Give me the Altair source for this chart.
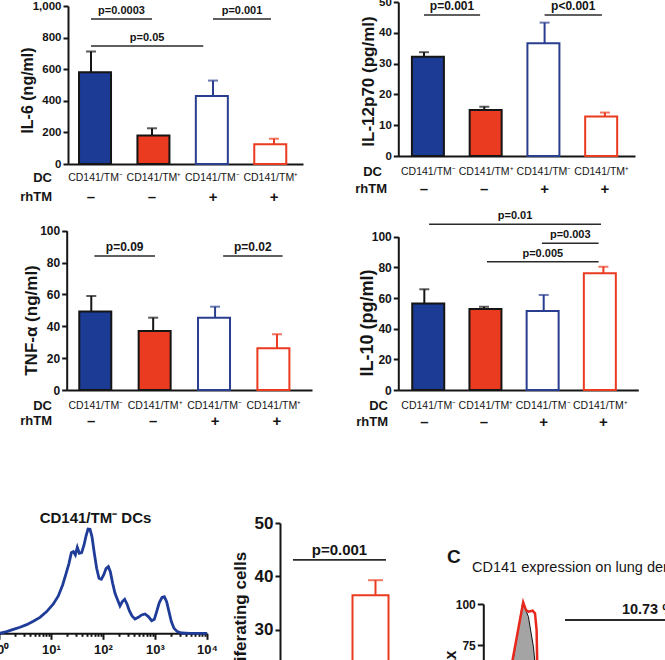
import math
import altair as alt
import pandas as pd

FONT = "Liberation Sans"
INK = "#151515"
W, H = 665, 660

# ------------------------------------------------------------------ data
GROUPS = ["CD141/TM⁻", "CD141/TM⁺", "CD141/TM⁻", "CD141/TM⁺"]
RHTM = ["–", "–", "+", "+"]
FILLS = ["#1b3b94", "#ea3a1f", "#ffffff", "#ffffff"]
EDGES = ["#151515", "#151515", "#2a3e90", "#ea3a1f"]

IL6_MEAN = [580, 180, 430, 125]
IL6_TOP = [712, 226, 528, 160]
IL6_SIG_TEXT = ["p=0.0003", "p=0.001", "p=0.05"]
IL6_SIG_FROM = [0.0, 2.0, 0.0]
IL6_SIG_TO = [1.0, 2.95, 1.84]
IL6_SIG_AT = [918, 918, 747]

IL12_MEAN = [32.2, 14.9, 36.6, 12.8]
IL12_TOP = [33.7, 16.0, 43.3, 14.1]
IL12_SIG_TEXT = ["p=0.001", "p<0.001"]
IL12_SIG_FROM = [0.0, 2.0]
IL12_SIG_TO = [0.93, 2.95]
IL12_SIG_AT = [45.8, 45.8]

TNF_MEAN = [49.2, 37.0, 45.4, 26.2]
TNF_TOP = [59.0, 45.4, 52.3, 35.0]
TNF_SIG_TEXT = ["p=0.09", "p=0.02"]
TNF_SIG_FROM = [0.05, 2.13]
TNF_SIG_TO = [1.03, 3.09]
TNF_SIG_AT = [84.1, 84.1]

IL10_MEAN = [56.5, 52.8, 51.5, 76.1]
IL10_TOP = [65.7, 54.3, 62.0, 80.4]
IL10_SIG_TEXT = ["p=0.01", "p=0.003", "p=0.005"]
IL10_SIG_FROM = [0.08, 1.97, 1.05]
IL10_SIG_TO = [2.96, 2.92, 2.92]
IL10_SIG_AT = [108.1, 95.7, 83.7]

# histogram of CD141/TM- DCs (log10 intensity, % of max)
HIST_LOG = [0.019, 0.147, 0.276, 0.404, 0.532, 0.660, 0.788, 0.917,
            1.045, 1.141, 1.224, 1.288, 1.346, 1.391, 1.429, 1.468, 1.506, 1.545,
            1.590, 1.635, 1.673, 1.712, 1.750, 1.788, 1.833, 1.878, 1.923, 1.968,
            2.013, 2.058, 2.103, 2.141, 2.186, 2.231, 2.276, 2.327, 2.372, 2.417,
            2.462, 2.506, 2.558, 2.615, 2.679, 2.744, 2.808, 2.872, 2.936, 2.987,
            3.032, 3.083, 3.135, 3.179, 3.224, 3.269, 3.314, 3.365, 3.429, 3.513,
            3.673, 3.865, 4.0]
HIST_PCT = [0, 1.6, 3.8, 5.8, 8.3, 11.5, 15.3, 20.8,
            28.1, 35.8, 46.3, 56.9, 67.1, 77.3, 78.3, 75.1, 82.4, 76.7,
            77.3, 84.7, 93.3, 100, 99.7, 92.7, 76.7, 62.3, 52.7, 51.8,
            55.9, 62.0, 63.9, 59.1, 47.9, 38.3, 32.6, 26.2, 30.4, 32.6,
            28.1, 21.7, 16.6, 13.7, 15.3, 17.6, 18.5, 16.0, 12.1, 13.4,
            20.8, 29.4, 34.5, 35.1, 30.4, 20.8, 11.2, 4.8, 1.6, 0.3,
            0, 0, 0]
DECADES = [0, 1, 2, 3, 4]
SUPERSCRIPTS = ["⁰", "¹", "²", "³", "⁴"]

# proliferation panel (only visible bar)
PROLIF_IDX = [1]
PROLIF_MEAN = [36.5]
PROLIF_TOP = [39.3]
PROLIF_SIG_TEXT = ["p=0.001"]
PROLIF_SIG_FROM = [-0.26]
PROLIF_SIG_TO = [1.16]
PROLIF_SIG_AT = [43.1]

# panel C histograms (channel, % of max)
C_GRAY_X = [14.3, 19.3, 20.5, 22.2, 23.3, 24.7, 25.5]
C_GRAY_Y = [64.0, 100.5, 97.4, 92.3, 84.1, 74.0, 64.0]
C_RED_X = [14.0, 19.6, 21.0, 22.2, 24.3, 25.5, 26.3, 26.6]
C_RED_Y = [64.0, 101.0, 96.3, 95.3, 95.9, 94.3, 84.1, 64.0]
GATE_TEXT = ["10.73 %"]
GATE_FROM = [40.5]
GATE_TO = [124.0]
GATE_AT = [90.2]


# ------------------------------------------------------------------ helpers
def text_label(txt, x, y, size, weight="bold", align="right", baseline="middle"):
    return alt.Chart(pd.DataFrame({"t": [txt]})).mark_text(
        font=FONT, fontSize=size, fontWeight=weight, align=align,
        baseline=baseline, color=INK
    ).encode(x=alt.value(x), y=alt.value(y), text="t:N")


def bar_panel(idx, mean, top, fills, edges, signs, sig_text, sig_from, sig_to, sig_at, lay):
    df = pd.DataFrame({"i": idx, "mean": mean, "top": top,
                       "fill": fills, "edge": edges, "sign": signs})
    sig = pd.DataFrame({"label": sig_text, "a": sig_from, "b": sig_to, "at": sig_at})

    def xs():
        return alt.Scale(domain=lay["xdom"], range=lay["xrng"], nice=False, zero=False)

    def ys():
        return alt.Scale(domain=lay["ydom"], range=lay["yrng"], nice=False, zero=False)

    if lay.get("xlabels"):
        expr = "[" + ",".join("'" + g + "'" for g in GROUPS) + "][datum.value]"
        xaxis = alt.Axis(orient="bottom", offset=lay["yrng"][0] - H, values=idx,
                         labelExpr=expr, ticks=False, labelPadding=lay["label_pad"],
                         labelFontSize=10.5, labelFontWeight="normal", title=None,
                         labelFlush=False, labelOverlap=False)
    else:
        xaxis = None
    yaxis = alt.Axis(orient="left", offset=-lay["xrng"][0], values=lay["yticks"],
                     tickSize=lay.get("tick_len", 5), labelPadding=2,
                     labelFontSize=lay["tick_font"], title=lay["ytitle"],
                     titleFontSize=lay["title_size"],
                     titleX=lay["title_x"] - lay["xrng"][0], titleY=lay["title_y"],
                     titleBaseline="alphabetic", titleAlign="center",
                     labelFlush=False, labelOverlap=False)

    def X(f, ax=None):
        return alt.X(f, scale=xs(), axis=ax)

    def Y(f, ax=None):
        return alt.Y(f, scale=ys(), axis=ax)

    bars = alt.Chart(df).mark_bar(orient="vertical", size=lay["bar_size"], strokeWidth=2).encode(
        x=X("i:Q", xaxis), y=Y("mean:Q", yaxis), y2=alt.datum(0),
        fill=alt.Fill("fill:N", scale=None), stroke=alt.Stroke("edge:N", scale=None))
    err = alt.Chart(df).mark_rule(strokeWidth=2).encode(
        x=X("i:Q"), y=Y("mean:Q"), y2="top:Q", stroke=alt.Stroke("edge:N", scale=None))
    cap = alt.Chart(df).mark_tick(orient="horizontal", size=lay["cap"], thickness=2).encode(
        x=X("i:Q"), y=Y("top:Q"), color=alt.Color("edge:N", scale=None))
    srule = alt.Chart(sig).mark_rule(strokeWidth=1.6, color="#2a2a2a").encode(
        x=X("a:Q"), x2="b:Q", y=Y("at:Q"))
    stext = alt.Chart(sig).transform_calculate(mid="(datum.a + datum.b) / 2").mark_text(
        font=FONT, fontSize=lay["sig_font"], fontWeight="bold", baseline="alphabetic",
        dy=-5, color=INK).encode(x=X("mid:Q"), y=Y("at:Q"), text="label:N")
    parts = [bars, err, cap, srule, stext]
    if lay.get("sign_y") is not None:
        parts.append(alt.Chart(df).mark_text(
            font=FONT, fontSize=15, fontWeight="bold", baseline="middle", color=INK
        ).encode(x=X("i:Q"), y=alt.value(lay["sign_y"]), text="sign:N"))
    return parts


layers = []

# ---- panel IL-6
layers += bar_panel(
    [0, 1, 2, 3], IL6_MEAN, IL6_TOP, FILLS, EDGES, RHTM,
    IL6_SIG_TEXT, IL6_SIG_FROM, IL6_SIG_TO, IL6_SIG_AT,
    dict(xdom=[-0.377, 3.475], xrng=[68, 303], ydom=[0, 1000], yrng=[164, 6],
         yticks=[0, 200, 400, 600, 800, 1000], ytitle="IL-6 (ng/ml)",
         title_x=32.5, title_y=90, title_size=16, tick_font=11.5, bar_size=32,
         cap=10, sig_font=11, xlabels=True, label_pad=8, sign_y=197))
layers += [text_label("DC", 52, 178, 13), text_label("rhTM", 52, 197, 13)]

# ---- panel IL-12p70
layers += bar_panel(
    [0, 1, 2, 3], IL12_MEAN, IL12_TOP, FILLS, EDGES, RHTM,
    IL12_SIG_TEXT, IL12_SIG_FROM, IL12_SIG_TO, IL12_SIG_AT,
    dict(xdom=[-0.426, 3.499], xrng=[398.3, 635], ydom=[0, 50], yrng=[156, 2],
         yticks=[0, 10, 20, 30, 40, 50], ytitle="IL-12p70 (pg/ml)",
         title_x=373.6, title_y=81, title_size=17, tick_font=11.5, bar_size=32,
         cap=10, sig_font=12, xlabels=True, label_pad=10, sign_y=189))
layers += [text_label("DC", 382, 172, 13), text_label("rhTM", 387, 189, 13)]

# ---- panel TNF-alpha
layers += bar_panel(
    [0, 1, 2, 3], TNF_MEAN, TNF_TOP, FILLS, EDGES, RHTM,
    TNF_SIG_TEXT, TNF_SIG_FROM, TNF_SIG_TO, TNF_SIG_AT,
    dict(xdom=[-0.397, 3.566], xrng=[66.7, 312], ydom=[0, 100], yrng=[390, 230.7],
         yticks=[0, 20, 40, 60, 80, 100], ytitle="TNF-α (ng/ml)",
         title_x=37, title_y=320, title_size=17, tick_font=12, bar_size=32,
         cap=10, sig_font=12, xlabels=True, label_pad=10, sign_y=421))
layers += [text_label("DC", 52, 406, 13), text_label("rhTM", 52, 421, 13)]

# ---- panel IL-10
layers += bar_panel(
    [0, 1, 2, 3], IL10_MEAN, IL10_TOP, FILLS, EDGES, RHTM,
    IL10_SIG_TEXT, IL10_SIG_FROM, IL10_SIG_TO, IL10_SIG_AT,
    dict(xdom=[-0.436, 3.585], xrng=[398.3, 638.3], ydom=[0, 100], yrng=[390, 236.7],
         yticks=[0, 20, 40, 60, 80, 100], ytitle="IL-10 (pg/ml)",
         title_x=372.2, title_y=322.5, title_size=18, tick_font=12, bar_size=32,
         cap=10, sig_font=11, xlabels=True, label_pad=10, sign_y=422))
layers += [text_label("DC", 388, 406, 13), text_label("rhTM", 388, 422, 13)]

# ---- histogram CD141/TM- DCs
hist_df = pd.DataFrame({"log": HIST_LOG, "pct": HIST_PCT})


def hx():
    return alt.Scale(domain=[0, 4], range=[-1, 207], nice=False, zero=False)


def hy():
    return alt.Scale(domain=[0, 100], range=[633.3, 529], nice=False, zero=False)


sup_expr = "'10' + [" + ",".join("'" + s + "'" for s in SUPERSCRIPTS) + "][datum.value]"
major_axis = alt.Axis(orient="bottom", offset=633.3 - H, values=DECADES, tickSize=6,
                      labelExpr=sup_expr, labelFontSize=13, labelPadding=4, title=None,
                      labelFlush=False, labelOverlap=False)
minor_vals = [d + math.log10(k) for d in DECADES[:-1] for k in range(2, 10)]
minor_axis = alt.Axis(orient="bottom", offset=633.3 - H, values=minor_vals, tickSize=3,
                      labels=False, domain=False, title=None)
layers.append(alt.Chart(hist_df).mark_line(color="#1f3c98", strokeWidth=2.8).encode(
    x=alt.X("log:Q", scale=hx(), axis=major_axis), y=alt.Y("pct:Q", scale=hy(), axis=None)))
layers.append(alt.Chart(hist_df).mark_line(opacity=0).encode(
    x=alt.X("log:Q", scale=hx(), axis=minor_axis), y=alt.Y("pct:Q", scale=hy(), axis=None)))
layers.append(text_label("CD141/TM⁻ DCs", 95.5, 523, 15, align="center", baseline="alphabetic"))

# ---- proliferation panel (partially visible)
layers += bar_panel(
    PROLIF_IDX, PROLIF_MEAN, PROLIF_TOP, ["#ffffff"], ["#ea3a1f"], ["+"],
    PROLIF_SIG_TEXT, PROLIF_SIG_FROM, PROLIF_SIG_TO, PROLIF_SIG_AT,
    dict(xdom=[-0.458, 1.0], xrng=[280, 375.5], ydom=[24, 50], yrng=[662, 523],
         yticks=[30, 40, 50], ytitle="% proliferating cells",
         title_x=245, title_y=632, title_size=17, tick_font=17, tick_len=5,
         bar_size=36, cap=15, sig_font=15, xlabels=False, sign_y=None))


# ---- panel C
def cx():
    return alt.Scale(domain=[0, 100], range=[484, 684], nice=False, zero=False)


def cy():
    return alt.Scale(domain=[0, 100], range=[768, 604], nice=False, zero=False)


c_axis = alt.Axis(orient="left", offset=-483.3, values=[0, 25, 50, 75, 100], tickSize=6,
                  labelPadding=2, labelFontSize=12, title="% of Max", titleFontSize=16,
                  titleX=455 - 483.3, titleY=684.7, titleBaseline="alphabetic",
                  titleAlign="center", labelFlush=False, labelOverlap=False)
gray = alt.Chart(pd.DataFrame({"x": C_GRAY_X, "y": C_GRAY_Y})).mark_area(
    fill="#a4a4a4", stroke="#111111", strokeWidth=1).encode(
    x=alt.X("x:Q", scale=cx(), axis=None), y=alt.Y("y:Q", scale=cy(), axis=c_axis))
red = alt.Chart(pd.DataFrame({"x": C_RED_X, "y": C_RED_Y})).mark_line(
    color="#e8281c", strokeWidth=2.5).encode(
    x=alt.X("x:Q", scale=cx(), axis=None), y=alt.Y("y:Q", scale=cy(), axis=None))
gate_df = pd.DataFrame({"label": GATE_TEXT, "a": GATE_FROM, "b": GATE_TO, "at": GATE_AT})
gate = alt.Chart(gate_df).mark_rule(strokeWidth=2, color="#2a2a2a").encode(
    x=alt.X("a:Q", scale=cx(), axis=None), x2="b:Q", y=alt.Y("at:Q", scale=cy(), axis=None))
gate_txt = alt.Chart(gate_df).transform_calculate(mid="(datum.a + datum.b) / 2").mark_text(
    font=FONT, fontSize=14.5, fontWeight="bold", baseline="alphabetic", dy=-6, color=INK
).encode(x=alt.X("mid:Q", scale=cx(), axis=None), y=alt.Y("at:Q", scale=cy(), axis=None),
         text="label:N")
layers += [gray, red, gate, gate_txt]
layers.append(text_label("C", 447, 563, 19, align="left", baseline="alphabetic"))
layers.append(text_label("CD141 expression on lung dendritic cells", 472, 572, 14.5,
                         weight="normal", align="left", baseline="alphabetic"))

chart = alt.layer(*layers).resolve_scale(
    x="independent", y="independent"
).resolve_axis(
    x="independent", y="independent"
).properties(
    width=W, height=H, autosize=alt.AutoSizeParams(type="none"), padding=0,
    background="white"
).configure_view(stroke=None).configure_axis(
    domainColor=INK, domainWidth=2, tickColor=INK, tickWidth=2, labelColor=INK,
    titleColor=INK, labelFont=FONT, titleFont=FONT, labelFontWeight="bold",
    titleFontWeight="bold", grid=False, labelFlush=False, labelOverlap=False,
    labelBound=False
)

chart.save("out.html", embed_options={"renderer": "svg", "actions": False})
